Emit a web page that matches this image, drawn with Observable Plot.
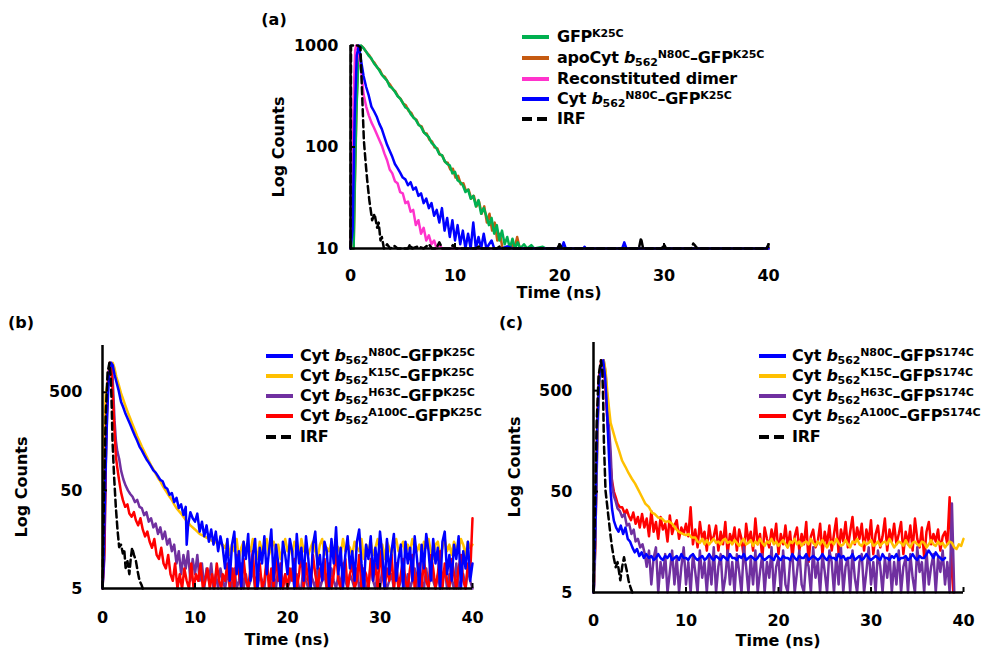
<!DOCTYPE html>
<html>
<head>
<meta charset="utf-8">
<script src="https://cdn.jsdelivr.net/npm/d3@7"></script>
<script src="https://cdn.jsdelivr.net/npm/@observablehq/plot@0.6"></script>
<style>
html,body{margin:0;padding:0;background:#fff;}
#root{position:relative;width:984px;height:656px;overflow:hidden;background:#fff;font-family:"DejaVu Sans",sans-serif;font-weight:bold;font-size:16px;color:#000;}
.t{position:absolute;white-space:nowrap;line-height:16px;}
.lg{letter-spacing:-0.25px;}
.c{transform:translate(-50%,-50%);}
.r{transform:translate(-50%,-50%) rotate(-90deg);}
.t sub,.t sup{font-size:11px;line-height:0;letter-spacing:-0.1px;}
.t sub{vertical-align:-3px;}
.t sup{vertical-align:5px;}
.sw{position:absolute;}
.p{position:absolute;}
</style>
</head>
<body>
<div id="root"></div>
<script>
// ---------------- tick labels ----------------
const xTicks = [0, 10, 20, 30, 40];
const aYTicks = [10, 100, 1000];
const bYTicks = [5, 50, 500];
const cYTicks = [5, 50, 500];

// ---------------- panel (a): [time ns, counts] ----------------
const aGFP = [[0,10],[0.3,10],[0.4,40],[0.55,200],[0.7,550],[0.85,850],[1.0,1000],[1.25,940],[1.5,870],[1.75,790],[2.0,745],[2.25,665],[2.5,620],[2.75,570],[3.0,515],[3.25,480],[3.5,450],[3.75,395],[4.0,380],[4.25,350],[4.5,318],[4.75,300],[5.0,272],[5.25,245],[5.5,238],[5.75,212],[6.0,196],[6.25,185],[6.5,166],[6.75,158],[7.0,140],[7.25,132],[7.5,125],[7.75,110],[8.0,104],[8.25,96],[8.5,85],[8.75,83],[9.0,73],[9.25,68],[9.5,66],[9.75,55],[10.0,57],[10.25,47],[10.5,45],[10.75,42],[11.0,36],[11.25,38],[11.5,31],[11.75,33],[12.0,26],[12.25,30],[12.5,22],[12.75,25],[13.0,21],[13.25,17],[13.5,20],[13.75,14],[14.0,17],[14.25,12],[14.5,15],[14.75,11],[15.0,13],[15.25,10],[15.5,12.5],[15.75,10],[16.0,11.5],[16.25,10],[16.6,11],[16.9,10],[17.3,10.8],[17.6,10],[18.4,10.4],[18.7,10],[40,10]];
const aApo = [[0,10],[0.3,10],[0.45,60],[0.6,300],[0.75,700],[0.9,950],[1.05,990],[1.3,930],[1.55,850],[1.8,800],[2.05,720],[2.3,675],[2.55,610],[2.8,575],[3.05,510],[3.3,488],[3.55,440],[3.8,410],[4.05,372],[4.3,352],[4.55,316],[4.8,298],[5.05,268],[5.3,258],[5.55,228],[5.8,218],[6.05,194],[6.3,186],[6.55,164],[6.8,160],[7.05,138],[7.3,135],[7.55,118],[7.8,113],[8.05,99],[8.3,97],[8.55,84],[8.8,82],[9.05,71],[9.3,70],[9.55,60],[9.8,61],[10.05,50],[10.3,52],[10.55,43],[10.8,44],[11.05,37],[11.3,38],[11.55,31],[11.8,33],[12.05,26],[12.3,29],[12.55,22],[12.8,26],[13.05,18],[13.3,22],[13.55,15],[13.8,18],[14.05,12],[14.3,14],[14.55,10],[15.2,10],[15.45,11],[15.7,10],[15.95,13],[16.2,10],[40,10]];
const aDimer = [[0,10],[0.15,30],[0.3,300],[0.45,900],[0.55,1000],[0.75,900],[1.0,600],[1.25,330],[1.5,250],[1.75,205],[2.0,175],[2.25,155],[2.5,135],[2.75,118],[3.0,103],[3.25,86],[3.5,74],[3.75,60],[4.0,55],[4.25,46],[4.5,44],[4.75,36],[5.0,35],[5.25,28],[5.5,29],[5.75,23],[6.0,24],[6.25,17],[6.5,19],[6.75,14],[7.0,16],[7.25,12],[7.5,13.5],[7.75,11],[8.0,12],[8.25,10],[8.5,11],[8.75,10],[40,10]];
const aCyt = [[0,10],[0.2,15],[0.4,200],[0.6,800],[0.8,1000],[1.0,720],[1.25,500],[1.5,390],[1.75,320],[2.0,250],[2.25,225],[2.5,200],[2.75,170],[3.0,150],[3.25,125],[3.5,105],[3.75,92],[4.0,80],[4.25,68],[4.5,62],[4.75,56],[5.0,50],[5.25,48],[5.5,42],[5.75,45],[6.0,38],[6.25,40],[6.5,33],[6.75,35],[7.0,28],[7.25,31],[7.5,25],[7.75,28],[8.0,21],[8.25,24],[8.5,18],[8.75,25],[9.0,15],[9.25,20],[9.5,13],[9.75,19],[10.0,12],[10.25,17],[10.5,11],[10.75,15],[11.0,10],[11.25,14],[11.5,10],[11.75,18],[12.0,10],[12.25,13],[12.5,10],[12.75,14],[13.0,10],[13.5,12],[13.75,10],[14.5,10],[15,10.5],[15.5,10],[20.2,10],[20.4,11.5],[20.6,10],[22.3,10],[22.4,10.4],[22.5,10],[26.0,10],[26.2,11.5],[26.4,10],[40,10]];
const aIRF = [[0,10],[0.05,1000],[0.7,1000],[0.95,960],[1.1,360],[1.28,116],[1.45,70],[1.6,47],[1.8,30],[2.07,19],[2.3,22],[2.55,16],[2.7,18],[2.87,12],[3.0,13],[3.2,10],[3.5,11],[3.8,10],[4.2,10.6],[4.5,10],[5.5,10],[5.7,11],[5.9,10],[6.5,10.5],[7.0,10],[7.5,11],[7.8,10],[8.2,10],[8.5,11.5],[8.8,10],[9.5,10],[9.8,10.8],[10.1,10],[12,10],[12.3,10.5],[12.6,10],[14,10],[14.3,10.5],[14.6,10],[19.8,10],[20,11],[20.3,10],[27.6,10],[27.8,12.7],[28.0,10],[29.8,10],[30,11],[30.2,10],[32.6,10],[32.8,11.2],[33,10.6],[33.2,10],[39.8,10],[40,11]];

// ---------------- panel (b): head [time, counts] + tail counts every 0.25 ns ----------------
const bTailStart = 13.25;
const bN80CHead = [[0,5],[0.1,8],[0.3,60],[0.5,300],[0.7,750],[0.9,1000],[1.1,950],[1.3,760],[1.5,640],[1.75,520],[2.0,400],[2.25,350],[2.5,300],[2.75,265],[3.0,235],[3.25,205],[3.5,180],[3.75,160],[4.0,140],[4.25,128],[4.5,115],[4.75,104],[5.0,96],[5.25,88],[5.5,80],[5.75,76],[6.0,70],[6.25,64],[6.5,62],[6.75,54],[7.0,52],[7.25,45],[7.5,47],[7.75,38],[8.0,42],[8.25,33],[8.5,36],[8.75,28],[9.0,34],[9.1,14],[9.25,22],[9.5,30],[9.75,26],[10.0,24],[10.25,29],[10.5,19],[10.75,24],[11.0,17],[11.25,22],[11.5,15],[11.75,20],[12.0,14],[12.25,19],[12.5,12],[12.75,17],[13.0,13]];
const bN80CTail = [8,16,6,14,19,7,12,5,15,10,18,6,11,16,5,13,9,17,7,12,20,6,14,9,5,15,11,
 7,16,12,5,18,9,13,6,17,10,5,14,19,8,11,6,15,12,5,16,9,21,7,13,5,11,17,8,
 12,6,15,20,9,5,14,10,17,6,13,8,19,11,5,16,7,12,18,6,10,14,5,15,9,13,6,17,
 10,5,14,8,18,12,6,16,9,13,5,15,19,7,11,6,14,10,17,5,12,8,15,6,9];
const bK15CHead = [[0,5],[0.03,18],[0.1,110],[0.35,490],[0.6,650],[0.9,980],[1.1,1000],[1.3,880],[1.5,720],[1.75,600],[2.0,490],[2.25,420],[2.5,360],[2.75,310],[3.0,270],[3.25,235],[3.5,205],[3.75,178],[4.0,158],[4.25,140],[4.5,125],[4.75,112],[5.0,100],[5.25,90],[5.5,82],[5.75,74],[6.0,67],[6.25,62],[6.5,56],[6.75,51],[7.0,47],[7.25,43],[7.5,40],[7.75,36],[8.0,33],[8.5,29],[9.0,25],[9.5,22],[10,20],[10.5,18],[11,17],[11.5,16],[12,15],[12.5,14.5],[13,14]];
const bK15CTail = [13,15,11,14,12,16,10,13,15,11,14,12,16,13,10,15,12,14,16,11,13,15,12,14,10,13,16,
 12,14,11,15,13,10,16,12,14,11,13,15,12,10,14,16,11,13,12,15,10,14,13,11,16,12,14,13,
 11,15,13,12,16,10,14,12,15,11,13,16,12,14,10,15,13,11,14,16,12,13,15,11,14,12,16,13,
 12,14,11,15,13,16,12,10,14,15,11,13,16,12,14,11,15,13,12,16,14,11,15,13,14];
const bH63CHead = [[0,5],[0.2,10],[0.4,150],[0.6,600],[0.8,950],[0.95,1000],[1.1,700],[1.3,260],[1.45,160],[1.6,125],[1.8,105],[2.0,80],[2.25,65],[2.5,56],[2.75,50],[3.0,46],[3.25,43],[3.5,38],[3.75,40],[4.0,34],[4.25,33],[4.5,28],[4.75,30],[5.0,24],[5.25,26],[5.5,21],[5.75,23],[6.0,18],[6.25,21],[6.5,16],[6.75,19],[7.0,14],[7.25,16],[7.5,12],[7.75,14],[8.0,9],[8.25,12],[8.5,7],[8.75,11],[9.0,8],[9.25,12],[9.5,6],[9.75,10],[10.0,7],[10.25,11],[10.5,6],[10.75,9],[11.0,5],[11.25,8],[11.5,6],[11.75,9],[12.0,5],[12.25,7],[12.5,5],[12.75,8],[13.0,6]];
const bH63CTail = [5,7,6,5,8,5,6,9,5,7,5,6,8,5,5,7,6,5,9,6,5,7,5,8,6,5,7,
 5,6,8,5,7,5,5,9,6,5,7,6,5,8,5,6,7,5,5,8,6,5,7,5,9,6,5,7,
 6,5,8,5,6,7,5,5,9,6,5,7,5,8,6,5,6,7,5,9,5,6,8,5,7,5,6,8,
 5,7,6,5,8,5,9,6,5,7,5,6,8,5,7,6,5,9,5,6,7,5,8,6,5];
const bA100CHead = [[0,5],[0.2,12],[0.4,200],[0.6,700],[0.8,1000],[0.95,900],[1.1,500],[1.3,200],[1.45,110],[1.6,85],[1.8,63],[2.0,48],[2.2,40],[2.45,34],[2.7,36],[2.9,29],[3.15,27],[3.4,30],[3.6,25],[3.85,22],[4.1,26],[4.35,20],[4.6,17],[4.85,19],[5.1,15],[5.35,13],[5.6,16],[5.85,11],[6.1,10],[6.35,13],[6.6,9],[6.85,8],[7.1,11],[7.35,7],[7.6,6],[7.85,9],[8.1,5],[8.35,7],[8.6,5],[8.85,8],[9.1,6],[9.35,5],[9.6,9],[9.85,5],[10.1,7],[10.35,6],[10.6,9],[10.85,5],[11.1,6],[11.35,8],[11.6,5],[11.85,7],[12.1,5],[12.35,9],[12.6,6],[12.85,5],[13.0,7]];
const bA100CTail = [6,9,5,8,5,11,7,5,10,6,5,8,12,5,7,9,5,6,10,5,8,5,11,6,9,5,7,
 5,8,6,10,5,7,12,5,9,6,5,11,7,5,8,6,10,5,9,5,7,12,6,5,8,10,5,7,
 9,5,6,11,5,8,7,5,10,6,9,5,12,7,5,8,6,11,5,9,5,7,10,6,5,8,11,5,
 7,9,5,10,6,5,11,8,5,7,12,5,9,6,5,10,7,5,8,11,6,5,9,7,26];
const bIRF = [[0,5],[0.15,40],[0.35,300],[0.55,800],[0.75,1000],[0.9,700],[1.0,350],[1.08,162],[1.25,70],[1.44,34],[1.62,20],[1.8,13.2],[2.0,14],[2.2,11.4],[2.35,12.5],[2.5,8.1],[2.7,9.5],[2.9,7],[3.05,10],[3.2,13],[3.4,11],[3.6,9.7],[3.8,7.5],[4.0,6],[4.2,5.5],[4.35,5]];

// ---------------- panel (c) ----------------
const cN80CHead = [[0,5],[0.2,20],[0.4,200],[0.6,600],[0.85,950],[1.05,1000],[1.25,700],[1.4,420],[1.55,200],[1.7,100],[1.85,50],[2.0,34],[2.2,25.8],[2.45,22],[2.7,20],[2.95,23],[3.2,19],[3.45,22],[3.7,17],[3.95,16],[4.2,14],[4.45,12.5],[4.7,13.5],[4.95,11.5],[5.2,12.5],[5.45,11],[5.7,12]];
const cN80CTailStart = 6.0;
const cN80CTail = [11,11.5,10.5,11,12,11,10.5,11.5,11,12,10.5,11,11.5,10.5,12,11,
 11,10.5,11.5,12,11,10.5,11,11.5,10.5,11,12,11,10.5,11.5,11,10.5,
 11.5,11,10.5,12,11,11,10.5,11.5,11,12,10.5,11,11.5,11,10.5,11,
 12,11,10.5,11,11.5,11,10.5,12,11,10.5,11.5,11,11,10.5,12,11,
 10.5,11.5,11,11,12,10.5,11,11.5,11,10.5,11,12,11,10.5,11.5,11,
 11,10.5,12,11,11.5,10.5,11,11,12,10.5,11,11.5,10.5,11,12,11,
 10.5,11,11.5,11,10.5,12,11,11,10.5,11.5,11,12,10.5,11,11,11.5,
 10.5,11,12,11,10.5,11.5,11,11,12,13,12,11,12.5,11.5,11,10.5,11];
const cK15CHead = [[0,5],[0.1,8],[0.3,60],[0.5,350],[0.7,700],[0.9,950],[1.1,1000],[1.3,800],[1.5,480],[1.7,320],[1.85,240],[2.1,200],[2.4,160],[2.75,128],[3.1,101],[3.45,88],[3.8,76],[4.15,67],[4.5,60],[4.85,52],[5.2,45],[5.6,38],[6.0,35],[6.3,31],[6.6,30],[7.0,27.6],[7.4,27],[7.75,25],[8.1,25.5],[8.5,24],[8.8,22],[9.2,20],[9.6,19.2],[10.0,18.5],[10.3,19],[10.6,17.5],[11.0,17.5]];
const cK15CTailStart = 11.25;
const cK15CTail = [16,15.5,17,15,16.5,15,16,17,15.5,16,15,16.5,17,15.5,16,
 15,16.5,15.5,14.5,16,17,15,15.5,16.5,14.5,16,15,17,15.5,14.5,16,
 15.5,17,15,16,14.5,15.5,16.5,15,14,16,15.5,17,15,16,14.5,15.5,
 16,15,17,15.5,14.5,16,15,16.5,15,14,15.5,16,15,17,15.5,14.5,
 15,16.5,15,14,16,15.5,17,15,14.5,16,15,15.5,16.5,14.5,15,16,
 14.5,15.5,16,15,17,15.5,14,15,16,15.5,14.5,16.5,15,14,15.5,16,
 15,14.5,16,15.5,14,15,16.5,15,14.5,16,15,15.5,14,15,16,15.5,
 14,13.5,15,14.5,17];
const cH63CHead = [[0,5],[0.1,6],[0.3,50],[0.5,300],[0.7,700],[0.9,950],[1.1,1000],[1.3,750],[1.5,400],[1.7,200],[1.85,127],[2.0,60],[2.2,45],[2.4,40],[2.6,34],[2.85,32],[3.1,28],[3.35,30],[3.6,23],[3.85,24],[4.1,19],[4.35,21],[4.55,16],[4.8,17],[5.05,14],[5.3,15],[5.55,12]];
const cH63CTailStart = 5.75;
const cH63CTail = [9,13,6,11,14,5,10,7,12,5,8,13,6,
 11,5,9,14,6,10,5,12,8,5,13,7,10,5,11,6,
 14,5,9,12,5,7,13,6,10,5,12,8,5,14,9,5,
 11,6,13,5,8,12,5,10,7,14,5,9,11,5,13,6,
 5,10,12,5,8,13,6,5,11,9,5,14,7,10,5,12,
 8,5,13,10,5,12,6,14,5,9,11,5,13,7,5,10,
 12,5,8,14,6,10,5,13,9,5,11,7,12,5,10,6,
 13,5,9,11,5,12,7,5,14,8,10,5,13,6,9,12,
 5,11,8,13,6,10,5,38];
const cH63CEnd = [[39.0,5]];
const cA100CHead = [[0,5],[0.2,15],[0.4,250],[0.6,700],[0.85,1000],[1.05,950],[1.25,600],[1.45,300],[1.66,160],[1.85,90],[2.0,64],[2.2,50],[2.4,44],[2.6,38],[2.85,35],[3.1,35],[3.4,30],[3.6,33],[3.8,29],[4.05,26],[4.3,31],[4.55,24],[4.8,28],[5.0,22]];
const cA100CTailStart = 5.25;
const cA100CTail = [30,22,27,18,32,20,25,17,28,21,24,16,29,19,23,
 26,17,22,19,24,18,35,15,21,14,25,17,20,13,23,16,
 18,23,13,20,15,25,12,19,16,22,13,21,17,11,24,16,
 20,13,27,15,19,11,22,17,14,21,16,24,12,19,15,23,
 14,20,11,18,22,13,19,15,25,10,18,21,14,16,24,12,
 20,15,23,13,19,27,12,21,16,25,14,20,28,15,22,17,
 24,13,21,16,26,12,19,23,14,18,27,13,21,16,24,15,
 19,25,12,20,15,23,13,27,17,14,22,11,20,25,15,19,
 16,21,13,18,20,15,44,8];
const cA100CEnd = [[38.9,5]];
const cIRF = [[0,5],[0.15,30],[0.35,250],[0.55,700],[0.8,1000],[0.95,800],[1.05,400],[1.12,160],[1.3,51],[1.5,35],[1.66,25.8],[1.85,18],[2.0,14.1],[2.2,11],[2.4,8.9],[2.6,10],[2.9,6.6],[3.1,9],[3.3,11.2],[3.45,9.5],[3.6,8.2],[3.8,6.5],[4.0,5.6],[4.2,5]];

// ---------------- legend labels and colours ----------------
const aNames = ["GFP<sup>K25C</sup>", "apoCyt <i>b</i><sub>562</sub><sup>N80C</sup>–GFP<sup>K25C</sup>", "Reconstituted dimer", "Cyt <i>b</i><sub>562</sub><sup>N80C</sup>–GFP<sup>K25C</sup>", "IRF"];
const aColors = ["#00B050", "#C55A11", "#FF33CC", "#0000FF", "#000000"];
const bNames = ["Cyt <i>b</i><sub>562</sub><sup>N80C</sup>–GFP<sup>K25C</sup>", "Cyt <i>b</i><sub>562</sub><sup>K15C</sup>–GFP<sup>K25C</sup>", "Cyt <i>b</i><sub>562</sub><sup>H63C</sup>–GFP<sup>K25C</sup>", "Cyt <i>b</i><sub>562</sub><sup>A100C</sup>–GFP<sup>K25C</sup>", "IRF"];
const cNames = ["Cyt <i>b</i><sub>562</sub><sup>N80C</sup>–GFP<sup>S174C</sup>", "Cyt <i>b</i><sub>562</sub><sup>K15C</sup>–GFP<sup>S174C</sup>", "Cyt <i>b</i><sub>562</sub><sup>H63C</sup>–GFP<sup>S174C</sup>", "Cyt <i>b</i><sub>562</sub><sup>A100C</sup>–GFP<sup>S174C</sup>", "IRF"];
const bcColors = ["#0000FF", "#FFC000", "#7030A0", "#FF0000", "#000000"];
const dashedFlags = [false, false, false, false, true];

// ---------------- build ----------------
const root = document.getElementById("root");
const step = 0.25;
function withTail(head, start, vals, end) {
  const out = head.concat(vals.map((v, i) => [start + i * step, v]));
  return end ? out.concat(end) : out;
}

function panel(cfg) {
  const marks = [];
  cfg.series.forEach(s => {
    const o = {x: d => d[0], y: d => d[1], stroke: s.color, strokeWidth: 2.5, strokeLinejoin: "round"};
    if (s.dash) o.strokeDasharray = "7,4";
    marks.push(Plot.line(s.data, o));
  });
  marks.push(Plot.ruleY(cfg.yTickMarks, {x1: 0, x2: cfg.yTickLen, stroke: "#000", strokeWidth: 2}));
  marks.push(Plot.ruleX(xTicks.slice(1), {y1: cfg.ydom[0], y2: cfg.xTickTop, stroke: "#000", strokeWidth: 2}));
  marks.push(Plot.ruleY([cfg.ydom[0]], {x1: 0, x2: 40, stroke: "#000", strokeWidth: 2.5}));
  marks.push(Plot.ruleX([0], {y1: cfg.ydom[0], y2: cfg.ydom[1], stroke: "#000", strokeWidth: 2.5}));
  // y tick labels (drawn as text so the log scale keeps every label)
  marks.push(Plot.text(cfg.yTicks, {x: 0, y: d => d, text: d => String(d), textAnchor: "end", dx: -cfg.ypad,
    fontSize: 16, fontWeight: "bold", fill: "#000"}));
  const svg = Plot.plot({
    width: cfg.w, height: cfg.h,
    marginLeft: cfg.ml, marginTop: cfg.mt, marginRight: cfg.mr, marginBottom: cfg.mb,
    x: {domain: [0, 40], ticks: xTicks, tickSize: 0, tickPadding: cfg.xpad, tickFormat: d => String(d), label: null},
    y: {type: "log", domain: cfg.ydom, axis: null},
    style: {fontFamily: "'DejaVu Sans', sans-serif", fontSize: "16px", fontWeight: "bold", background: "none", color: "#000", overflow: "visible"},
    marks
  });
  const wrap = document.createElement("div");
  wrap.className = "p";
  wrap.style.left = cfg.left + "px";
  wrap.style.top = cfg.top + "px";
  wrap.appendChild(svg);
  root.appendChild(wrap);
}

panel({
  left: 230, top: 20, w: 558, h: 298, ml: 120, mt: 25, mr: 20, mb: 70,
  ydom: [10, 1000], yTicks: aYTicks, xpad: 21, ypad: 12,
  yTickMarks: [100], yTickLen: 0.48, xTickTop: 11.2,
  series: [
    {data: aApo, color: aColors[1]},
    {data: aGFP, color: aColors[0]},
    {data: aDimer, color: aColors[2]},
    {data: aCyt, color: aColors[3]},
    {data: aIRF, color: aColors[4], dash: true}
  ]
});

panel({
  left: 0, top: 330, w: 484, h: 320, ml: 102, mt: 15, mr: 12, mb: 62,
  ydom: [5, 1500], yTicks: bYTicks, xpad: 23, ypad: 20,
  yTickMarks: [50, 500], yTickLen: 0.54, xTickTop: 5.62,
  series: [
    {data: withTail(bK15CHead, bTailStart, bK15CTail), color: bcColors[1]},
    {data: withTail(bH63CHead, bTailStart, bH63CTail), color: bcColors[2]},
    {data: withTail(bA100CHead, bTailStart, bA100CTail), color: bcColors[3]},
    {data: withTail(bN80CHead, bTailStart, bN80CTail), color: bcColors[0]},
    {data: bIRF, color: bcColors[4], dash: true}
  ]
});

panel({
  left: 490, top: 330, w: 488, h: 322, ml: 103, mt: 12, mr: 15, mb: 60,
  ydom: [5, 1500], yTicks: cYTicks, xpad: 22, ypad: 21,
  yTickMarks: [50, 500], yTickLen: 0.54, xTickTop: 5.6,
  series: [
    {data: withTail(cA100CHead, cA100CTailStart, cA100CTail, cA100CEnd), color: bcColors[3]},
    {data: withTail(cH63CHead, cH63CTailStart, cH63CTail, cH63CEnd), color: bcColors[2]},
    {data: withTail(cK15CHead, cK15CTailStart, cK15CTail), color: bcColors[1]},
    {data: withTail(cN80CHead, cN80CTailStart, cN80CTail), color: bcColors[0]},
    {data: cIRF, color: bcColors[4], dash: true}
  ]
});

// ---------------- text ----------------
function text(s, x, y, cls) {
  root.insertAdjacentHTML("beforeend", `<div class="t ${cls}" style="left:${x}px;top:${y}px">${s}</div>`);
}
text("(a)", 274, 20, "c");
text("(b)", 21, 323, "c");
text("(c)", 511, 323, "c");
text("Time (ns)", 559, 293, "c");
text("Time (ns)", 287, 640, "c");
text("Time (ns)", 778, 641, "c");
text("Log Counts", 279, 147, "r");
text("Log Counts", 22, 487, "r");
text("Log Counts", 515, 467, "r");

function legend(x0, xt, rows, names, colors) {
  names.forEach((nm, i) => {
    const y = rows[i];
    const dash = dashedFlags[i] ? 'stroke-dasharray="10,5"' : "";
    root.insertAdjacentHTML("beforeend",
      `<svg class="sw" style="left:${x0}px;top:${y - 4}px" width="27" height="8"><line x1="0" x2="27" y1="4" y2="4" stroke="${colors[i]}" stroke-width="4" ${dash}/></svg>`);
    root.insertAdjacentHTML("beforeend", `<div class="t lg" style="left:${xt}px;top:${y - 7.7}px">${nm}</div>`);
  });
}
legend(522, 557, [37, 58, 79, 99, 119], aNames, aColors);
legend(266, 300, [356, 376, 396, 416, 437], bNames, bcColors);
legend(759, 792, [356, 376, 396, 416, 437], cNames, bcColors);
</script>
</body>
</html>
